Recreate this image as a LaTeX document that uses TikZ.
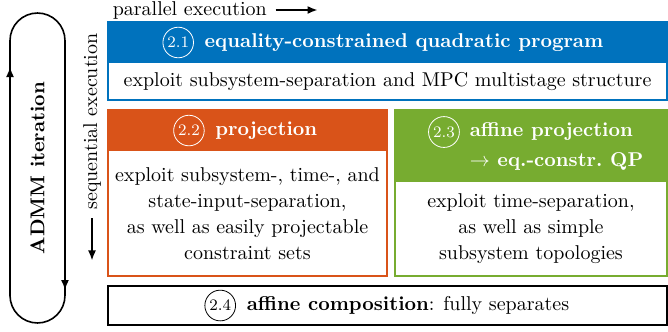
\documentclass[tikz,border=0pt]{standalone}
\usepackage{amsmath, amssymb}
\usepackage{tikz}
\usetikzlibrary{positioning, arrows.meta}
\definecolor{qpblue}{RGB}{0,114,189}
\definecolor{projorange}{RGB}{217,83,25}
\definecolor{affgreen}{RGB}{119,172,48}

\begin{document}
\begin{tikzpicture}[thick, >={Latex[length=5pt, width=4pt]}]
  \tikzstyle{every node}=[inner sep=0pt]
  \tikzstyle{num}=[circle, draw, thin, inner sep=1.2pt, font=\footnotesize]
  \tikzstyle{head}=[font=\bfseries, text=white]
  \tikzstyle{body}=[align=center, font=\fontsize{10}{13}\selectfont]
  \useasboundingbox (0, 0) rectangle (11.739, 5.817);
  % ADMM loop
  \draw (0.176, 0.624) -- (0.176, 5.105) arc[start angle=180, end angle=0, radius=0.483]
    -- (1.142, 0.624) arc[start angle=0, end angle=-180, radius=0.483] -- cycle;
  \draw[->] (0.176, 4.0) -- (0.176, 4.639);
  \draw[->] (1.142, 1.36) -- (1.142, 0.720);
  \node[rotate=90, font=\bfseries] (admm) at (0.659, 2.864) {ADMM iteration};
  % execution order
  \node[anchor=west] (par) at (1.968, 5.641) {parallel execution};
  \coordinate[right=4pt of par.east] (par1);
  \coordinate[right=21pt of par1] (par2);
  \draw[->] (par1) -- (par2);
  \node[rotate=90] (seq) at (1.617, 3.681) {sequential execution};
  \coordinate[below=4pt of seq.west] (seq1);
  \coordinate[below=21pt of seq1] (seq2);
  \draw[->] (seq1) -- (seq2);
  % boxes
  \fill[qpblue] (1.898, 4.710) rectangle (11.721, 5.430);
  \draw[qpblue] (1.898, 4.059) rectangle (11.721, 5.430);
  \fill[projorange] (1.898, 3.163) rectangle (6.801, 3.884);
  \draw[projorange] (1.898, 0.967) rectangle (6.801, 3.884);
  \fill[affgreen] (6.941, 2.618) rectangle (11.721, 3.884);
  \draw[affgreen] (6.941, 0.967) rectangle (11.721, 3.884);
  \draw (1.898, 0.105) rectangle (11.721, 0.791);
  % 2.1
  \node[head] (t1) at (7.10, 5.07) {equality-constrained quadratic program};
  \node[num, white, left=5pt of t1] (n1) {2.1};
  \node[body] (b1) at (6.81, 4.384) {exploit subsystem-separation and MPC multistage structure};
  % 2.2
  \node[head] (t2) at (4.68, 3.523) {projection};
  \node[num, white, left=5pt of t2] (n2) {2.2};
  \node[body] (b2) at (4.349, 2.065) {exploit subsystem-, time-, and\\ state-input-separation,\\
    as well as easily projectable\\ constraint sets};
  % 2.3
  \node[head, align=left, anchor=west, font=\bfseries\fontsize{10}{15}\selectfont] (t3)
    at (8.242, 3.251) {affine projection\\ $\rightarrow$ eq.-constr.\ QP};
  \node[num, white] (n3) at (7.802, 3.497) {2.3};
  \node[body] (b3) at (9.331, 1.792) {exploit time-separation,\\ as well as simple\\ subsystem topologies};
  % 2.4
  \node (t4) at (7.17, 0.448) {\textbf{affine composition}: fully separates};
  \node[num, left=5pt of t4] (n4) {2.4};
\end{tikzpicture}
\end{document}
